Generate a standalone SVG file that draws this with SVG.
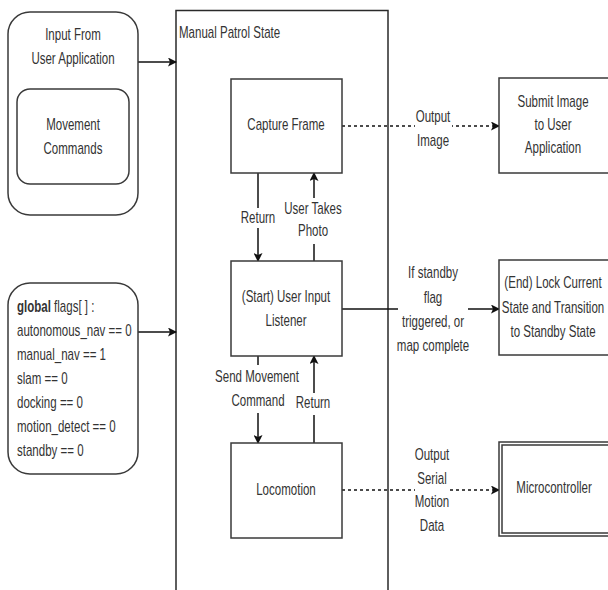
<svg xmlns="http://www.w3.org/2000/svg" width="608" height="590" viewBox="0 0 608 590">
  <style>
    .box { fill: #ffffff; stroke: #3a3a3a; stroke-width: 1.5; }
    .frame { fill: none; stroke: #2a2a2a; stroke-width: 1.5; }
    .link { fill: none; stroke: #111111; stroke-width: 1.5; }
    .dash { stroke-dasharray: 3 3; }
    .bg { fill: #ffffff; stroke: none; }
    text { font-family: "Liberation Sans", Arial, sans-serif; font-size: 16px; fill: #333333;
           transform-box: fill-box; transform: scaleX(0.72); }
    .c { text-anchor: middle; transform-origin: center; }
    .l { text-anchor: start; transform-origin: left; }
  </style>
  <defs>
    <marker id="arrow" markerWidth="9" markerHeight="9" refX="8" refY="4.5" orient="auto" markerUnits="userSpaceOnUse">
      <path d="M0,0 L9,4.5 L0,9 L2,4.5 z" fill="#111111"/>
    </marker>
  </defs>

  <rect width="608" height="590" fill="#ffffff"/>

  <!-- state container, open at the bottom -->
  <g id="manual-patrol-state">
    <path class="frame" d="M176,592 V10.5 H388 V592"/>
    <text class="l" x="179" y="38">Manual Patrol State</text>
  </g>

  <!-- connectors -->
  <g id="connectors">
    <line class="link" x1="138" y1="62" x2="176" y2="62" marker-end="url(#arrow)"/>
    <line class="link" x1="138" y1="332" x2="176" y2="332" marker-end="url(#arrow)"/>

    <!-- capture frame -> submit image -->
    <line class="link dash" x1="342" y1="126" x2="499" y2="126" marker-end="url(#arrow)"/>
    <rect class="bg" x="415" y="106" width="37" height="42"/>
    <text class="c" x="433" y="122">Output</text>
    <text class="c" x="433" y="146">Image</text>

    <!-- capture frame -> listener (return) -->
    <line class="link" x1="258" y1="173" x2="258" y2="261" marker-end="url(#arrow)"/>
    <rect class="bg" x="240" y="208" width="36" height="20"/>
    <text class="c" x="258" y="223">Return</text>

    <!-- listener -> capture frame -->
    <line class="link" x1="314" y1="261" x2="314" y2="173" marker-end="url(#arrow)"/>
    <rect class="bg" x="284" y="198" width="60" height="46"/>
    <text class="c" x="313" y="214">User Takes</text>
    <text class="c" x="313" y="236">Photo</text>

    <!-- listener -> end -->
    <line class="link" x1="342" y1="309" x2="499" y2="309" marker-end="url(#arrow)"/>
    <rect class="bg" x="398" y="262" width="70" height="94"/>
    <text class="c" x="433" y="278">If standby</text>
    <text class="c" x="433" y="303">flag</text>
    <text class="c" x="433" y="327">triggered, or</text>
    <text class="c" x="433" y="351">map complete</text>

    <!-- listener -> locomotion -->
    <line class="link" x1="258" y1="356" x2="258" y2="443" marker-end="url(#arrow)"/>
    <rect class="bg" x="214" y="365" width="86" height="48"/>
    <text class="c" x="257" y="382">Send Movement</text>
    <text class="c" x="258" y="406">Command</text>

    <!-- locomotion -> listener (return) -->
    <line class="link" x1="314" y1="443" x2="314" y2="356" marker-end="url(#arrow)"/>
    <rect class="bg" x="296" y="393" width="36" height="22"/>
    <text class="c" x="313" y="408">Return</text>

    <!-- locomotion -> microcontroller -->
    <line class="link dash" x1="342" y1="490" x2="499" y2="490" marker-end="url(#arrow)"/>
    <rect class="bg" x="415" y="443" width="34" height="94"/>
    <text class="c" x="432" y="460">Output</text>
    <text class="c" x="432" y="484">Serial</text>
    <text class="c" x="432" y="507">Motion</text>
    <text class="c" x="432" y="531">Data</text>
  </g>

  <g id="input-from-user-application">
    <rect class="box" x="8" y="12" width="130" height="203" rx="22" ry="22"/>
    <text class="c" x="73" y="40">Input From</text>
    <text class="c" x="73" y="64">User Application</text>
  </g>

  <g id="movement-commands">
    <rect class="box" x="17" y="89" width="112" height="95" rx="13" ry="13"/>
    <text class="c" x="73" y="130">Movement</text>
    <text class="c" x="73" y="154">Commands</text>
  </g>

  <g id="global-flags">
    <rect class="box" x="8" y="283" width="130" height="191" rx="22" ry="22"/>
    <text class="l" x="17" y="312">
      <tspan font-weight="bold">global</tspan> flags[ ] :
      <tspan x="17" y="336">autonomous_nav == 0</tspan>
      <tspan x="17" y="360">manual_nav == 1</tspan>
      <tspan x="17" y="384">slam == 0</tspan>
      <tspan x="17" y="408">docking == 0</tspan>
      <tspan x="17" y="432">motion_detect == 0</tspan>
      <tspan x="17" y="456">standby == 0</tspan>
    </text>
  </g>

  <g id="capture-frame">
    <rect class="box" x="231" y="79" width="111" height="94"/>
    <text class="c" x="286" y="130">Capture Frame</text>
  </g>

  <g id="user-input-listener">
    <rect class="box" x="231" y="261" width="111" height="95"/>
    <text class="c" x="286" y="302">(Start) User Input</text>
    <text class="c" x="286" y="326">Listener</text>
  </g>

  <g id="locomotion">
    <rect class="box" x="231" y="443" width="111" height="95"/>
    <text class="c" x="286" y="495">Locomotion</text>
  </g>

  <g id="submit-image">
    <rect class="box" x="499" y="78" width="113" height="95"/>
    <text class="c" x="553" y="107">Submit Image</text>
    <text class="c" x="553" y="130">to User</text>
    <text class="c" x="553" y="153">Application</text>
  </g>

  <g id="lock-current-state">
    <rect class="box" x="499" y="260" width="113" height="95"/>
    <text class="c" x="553" y="288">(End) Lock Current</text>
    <text class="c" x="553" y="313">State and Transition</text>
    <text class="c" x="553" y="337">to Standby State</text>
  </g>

  <g id="microcontroller">
    <rect class="box" x="499" y="442" width="113" height="94"/>
    <rect class="box" x="502" y="445" width="113" height="88"/>
    <text class="c" x="554" y="493">Microcontroller</text>
  </g>
</svg>
